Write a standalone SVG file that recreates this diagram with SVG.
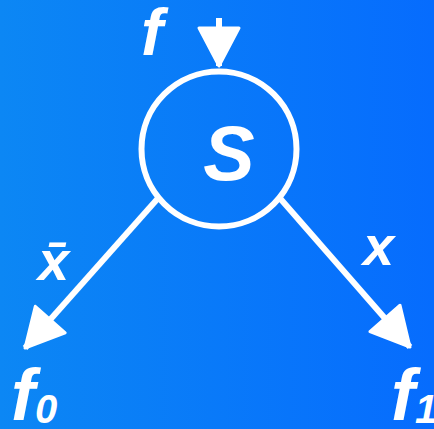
<svg xmlns="http://www.w3.org/2000/svg" width="434" height="429" viewBox="0 0 434 429">
<style>
.t{font-family:"Liberation Sans",Arial,sans-serif;font-weight:bold;font-style:italic;fill:#fff}
.edge{stroke:#fff;stroke-width:6;fill:none}
</style>
<defs>
<linearGradient id="bg" x1="0" y1="0" x2="1" y2="0">
<stop offset="0" stop-color="#0c87f4"/>
<stop offset="1" stop-color="#066cfe"/>
</linearGradient>
<marker id="ah" markerUnits="userSpaceOnUse" markerWidth="44" markerHeight="46" viewBox="-2 -23 44 46" refX="38" refY="0" orient="auto">
<path d="M0,-20 L38,0 L0,20 Z" fill="#fff" stroke="#fff" stroke-width="3" stroke-linejoin="round"/>
</marker>
</defs>
<rect width="434" height="429" fill="url(#bg)"/>
<g id="connectors">
<line class="edge" x1="219" y1="18" x2="219" y2="66" marker-end="url(#ah)"/>
<line class="edge" x1="160" y1="196" x2="25" y2="348" marker-end="url(#ah)"/>
<line class="edge" x1="278" y1="196" x2="410" y2="347" marker-end="url(#ah)"/>
</g>
<g id="node-S">
<circle cx="219" cy="149" r="77.5" fill="none" stroke="#fff" stroke-width="6"/>
<text class="t" x="229" y="180" font-size="77" text-anchor="middle">S</text>
</g>
<g id="label-f"><text class="t" x="141" y="55" font-size="66">f</text></g>
<g id="label-xbar"><text class="t" x="38" y="280" font-size="56">x̄</text></g>
<g id="label-x"><text class="t" x="363" y="265" font-size="56">x</text></g>
<g id="node-f0"><text class="t" x="11" y="420" font-size="72">f<tspan font-size="40" dy="3">0</tspan></text></g>
<g id="node-f1"><text class="t" x="391" y="420" font-size="72">f<tspan font-size="40" dy="3">1</tspan></text></g>
</svg>
